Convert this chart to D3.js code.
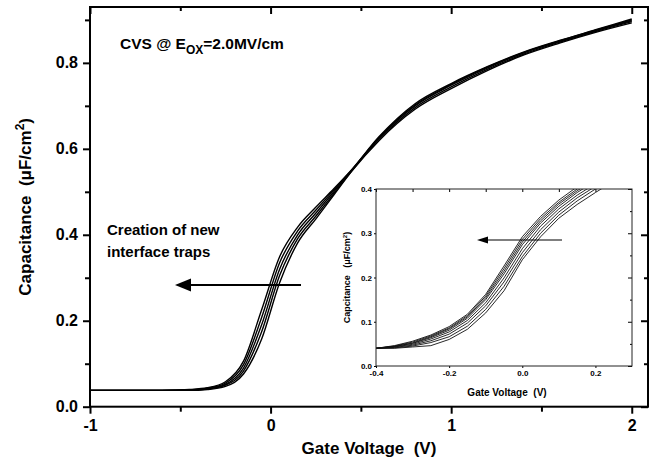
<!DOCTYPE html>
<html>
<head>
<meta charset="utf-8">
<script src="https://cdn.jsdelivr.net/npm/d3@7"></script>
<style>
  body { margin: 0; background: #fff; }
  svg { display: block; font-family: "Liberation Sans", Arial, sans-serif; }
  text { white-space: pre; }
</style>
</head>
<body>
<svg id="chart" width="653" height="463"></svg>
<script>
// ---------- DATA ----------
// Main panel: gate voltage grid (V) and capacitance curves (uF/cm^2)
const mainVoltage = [-1, -0.6, -0.45, -0.35, -0.25, -0.15, -0.05, 0.05, 0.15, 0.25, 0.35, 0.45, 0.6, 0.8, 1.0, 1.2, 1.4, 1.6, 1.8, 2.0];
const mainCurve1 = [0.038, 0.038, 0.040, 0.044, 0.058, 0.106, 0.225, 0.349, 0.418, 0.464, 0.507, 0.552, 0.628, 0.705, 0.752, 0.791, 0.825, 0.852, 0.877, 0.902];
const mainCurve2 = [0.038, 0.038, 0.0395, 0.043, 0.055, 0.098, 0.207, 0.335, 0.409, 0.457, 0.504, 0.551, 0.626, 0.702, 0.750, 0.790, 0.824, 0.851, 0.876, 0.900];
const mainCurve3 = [0.038, 0.038, 0.039, 0.042, 0.052, 0.090, 0.190, 0.320, 0.400, 0.450, 0.500, 0.550, 0.625, 0.700, 0.748, 0.788, 0.823, 0.850, 0.875, 0.898];
const mainCurve4 = [0.038, 0.038, 0.0385, 0.041, 0.050, 0.083, 0.174, 0.305, 0.391, 0.443, 0.496, 0.549, 0.622, 0.696, 0.744, 0.785, 0.820, 0.848, 0.873, 0.896];
const mainCurve5 = [0.038, 0.038, 0.038, 0.040, 0.0475, 0.076, 0.157, 0.2885, 0.381, 0.4365, 0.4925, 0.548, 0.619, 0.692, 0.740, 0.782, 0.818, 0.846, 0.871, 0.893];

const mainXTicks = [-1, 0, 1, 2];
const mainXMinor = [-0.5, 0.5, 1.5];
const mainYTicks = [0.0, 0.2, 0.4, 0.6, 0.8];
const mainYMinor = [0.1, 0.3, 0.5, 0.7, 0.9];

// Inset panel
const insetVoltage = [-0.4, -0.35, -0.3, -0.25, -0.2, -0.15, -0.1, -0.05, 0, 0.05, 0.1, 0.15, 0.2, 0.25];
const insetCurve1 = [0.040, 0.046, 0.056, 0.070, 0.089, 0.117, 0.162, 0.226, 0.292, 0.338, 0.375, 0.405, 0.430, 0.455];
const insetCurve2 = [0.040, 0.045, 0.054, 0.068, 0.086, 0.114, 0.158, 0.220, 0.286, 0.333, 0.370, 0.400, 0.425, 0.450];
const insetCurve3 = [0.040, 0.044, 0.052, 0.066, 0.084, 0.111, 0.154, 0.214, 0.280, 0.328, 0.366, 0.396, 0.422, 0.447];
const insetCurve4 = [0.040, 0.044, 0.051, 0.064, 0.081, 0.108, 0.150, 0.208, 0.274, 0.323, 0.361, 0.392, 0.418, 0.443];
const insetCurve5 = [0.040, 0.043, 0.049, 0.061, 0.077, 0.103, 0.143, 0.199, 0.265, 0.316, 0.355, 0.386, 0.412, 0.437];
const insetCurve6 = [0.040, 0.042, 0.047, 0.057, 0.072, 0.097, 0.136, 0.190, 0.256, 0.308, 0.348, 0.380, 0.406, 0.432];
const insetCurve7 = [0.040, 0.041, 0.045, 0.053, 0.066, 0.090, 0.128, 0.180, 0.247, 0.300, 0.341, 0.373, 0.400, 0.425];
const insetCurve8 = [0.040, 0.040, 0.043, 0.046, 0.060, 0.083, 0.120, 0.170, 0.240, 0.292, 0.334, 0.365, 0.392, 0.418];

const insetXTicks = [-0.4, -0.2, 0.0, 0.2];
const insetXMinor = [-0.3, -0.1, 0.1];
const insetYTicks = [0.0, 0.1, 0.2, 0.3, 0.4];
const insetYMinor = [0.05, 0.15, 0.25, 0.35];

// ---------- DRAW ----------
const svg = d3.select("#chart");
const FONT = '"Liberation Sans", Arial, sans-serif';

// main scales
const x = d3.scaleLinear().domain([-1, 2.09]).range([90, 648]);
const y = d3.scaleLinear().domain([0, 0.93]).range([406.7, 7]);
const [xL, xR] = x.range();
const [yB, yT] = y.range();

const fmt1 = d => d.toFixed(1);
const fmtInt = d => String(d);

function styleAxis(g, w) {
  g.selectAll(".domain").remove();
  g.selectAll(".tick line").attr("stroke", "#000").attr("stroke-width", w);
  g.selectAll("text").attr("fill", "#000").attr("font-family", FONT).attr("font-weight", "bold");
}

// main curves
const mainSeries = [mainCurve1, mainCurve2, mainCurve3, mainCurve4, mainCurve5];
const line = d3.line().x(d => x(d[0])).y(d => y(d[1])).curve(d3.curveMonotoneX);
svg.append("defs").append("clipPath").attr("id", "mainClip")
  .append("rect").attr("x", xL).attr("y", yT).attr("width", xR - xL).attr("height", yB - yT);
svg.append("g").attr("clip-path", "url(#mainClip)")
  .selectAll("path").data(mainSeries).join("path")
  .attr("d", s => line(mainVoltage.map((v, i) => [v, s[i]])))
  .attr("fill", "none").attr("stroke", "#000").attr("stroke-width", 1.4);

// main axes
const gBottom = svg.append("g").attr("transform", `translate(0,${yB})`)
  .call(d3.axisBottom(x).tickValues(mainXTicks).tickFormat(fmtInt).tickSize(7).tickPadding(6));
styleAxis(gBottom, 2);
gBottom.selectAll("text").attr("font-size", 16);
const gBottomMinor = svg.append("g").attr("transform", `translate(0,${yB})`)
  .call(d3.axisBottom(x).tickValues(mainXMinor).tickFormat("").tickSize(5));
styleAxis(gBottomMinor, 2);

const gLeft = svg.append("g").attr("transform", `translate(${xL},0)`)
  .call(d3.axisLeft(y).tickValues(mainYTicks).tickFormat(fmt1).tickSize(7).tickPadding(5));
styleAxis(gLeft, 2);
gLeft.selectAll("text").attr("font-size", 16);
const gLeftMinor = svg.append("g").attr("transform", `translate(${xL},0)`)
  .call(d3.axisLeft(y).tickValues(mainYMinor).tickFormat("").tickSize(5));
styleAxis(gLeftMinor, 2);

// top & right inward ticks
const gTop = svg.append("g").attr("transform", `translate(0,${yT})`)
  .call(d3.axisBottom(x).tickValues(mainXTicks).tickFormat("").tickSize(7));
styleAxis(gTop, 2);
const gTopMinor = svg.append("g").attr("transform", `translate(0,${yT})`)
  .call(d3.axisBottom(x).tickValues(mainXMinor).tickFormat("").tickSize(4));
styleAxis(gTopMinor, 2);
const gRight = svg.append("g").attr("transform", `translate(${xR},0)`)
  .call(d3.axisLeft(y).tickValues(mainYTicks).tickFormat("").tickSize(7));
styleAxis(gRight, 2);
const gRightMinor = svg.append("g").attr("transform", `translate(${xR},0)`)
  .call(d3.axisLeft(y).tickValues(mainYMinor).tickFormat("").tickSize(4));
styleAxis(gRightMinor, 2);

// main frame
svg.append("rect").attr("x", xL).attr("y", yT).attr("width", xR - xL).attr("height", yB - yT)
  .attr("fill", "none").attr("stroke", "#000").attr("stroke-width", 2);

// axis titles
svg.append("text").attr("x", (xL + xR) / 2).attr("y", 454).attr("text-anchor", "middle")
  .attr("font-size", 17).attr("font-weight", "bold").text("Gate Voltage  (V)");
const yt = svg.append("text").attr("transform", `translate(31,${(yB + yT) / 2}) rotate(-90)`)
  .attr("text-anchor", "middle").attr("font-size", 17).attr("font-weight", "bold");
yt.append("tspan").text("Capacitance  (\u03bcF/cm");
yt.append("tspan").attr("dy", -7).attr("font-size", 12).text("2");
yt.append("tspan").attr("dy", 7).text(")");

// title annotation
const tt = svg.append("text").attr("x", 120).attr("y", 48.5).attr("font-size", 15.5).attr("font-weight", "bold");
tt.append("tspan").text("CVS @ E");
tt.append("tspan").attr("dy", 5).attr("font-size", 12).text("OX");
tt.append("tspan").attr("dy", -5).text("=2.0MV/cm");

svg.append("text").attr("x", 107).attr("y", 235).attr("font-size", 15).attr("font-weight", "bold").text("Creation of new");
svg.append("text").attr("x", 107).attr("y", 257).attr("font-size", 15).attr("font-weight", "bold").text("interface traps");

// main arrow
svg.append("line").attr("x1", 301).attr("x2", 188).attr("y1", 285).attr("y2", 285)
  .attr("stroke", "#000").attr("stroke-width", 2);
svg.append("path").attr("d", "M175,285 L191,278.5 L191,291.5 Z").attr("fill", "#000");

// ---------- INSET ----------
const ix = d3.scaleLinear().domain([-0.4, 0.3]).range([376, 632]);
const iy = d3.scaleLinear().domain([0, 0.4]).range([366, 189]);
const [ixL, ixR] = ix.range();
const [iyB, iyT] = iy.range();

svg.append("rect").attr("x", ixL).attr("y", iyT).attr("width", ixR - ixL).attr("height", iyB - iyT).attr("fill", "#fff");
svg.select("defs").append("clipPath").attr("id", "insetClip")
  .append("rect").attr("x", ixL).attr("y", iyT).attr("width", ixR - ixL).attr("height", iyB - iyT);
const insetSeries = [insetCurve1, insetCurve2, insetCurve3, insetCurve4, insetCurve5, insetCurve6, insetCurve7, insetCurve8];
const iline = d3.line().x(d => ix(d[0])).y(d => iy(d[1]));
svg.append("g").attr("clip-path", "url(#insetClip)")
  .selectAll("path").data(insetSeries).join("path")
  .attr("d", s => iline(insetVoltage.map((v, i) => [v, s[i]])))
  .attr("fill", "none").attr("stroke", "#111").attr("stroke-width", 0.9);

const giB = svg.append("g").attr("transform", `translate(0,${iyB})`)
  .call(d3.axisBottom(ix).tickValues(insetXTicks).tickFormat(fmt1).tickSize(2).tickPadding(2));
styleAxis(giB, 1);
giB.selectAll("text").attr("font-size", 8);
const giL = svg.append("g").attr("transform", `translate(${ixL},0)`)
  .call(d3.axisLeft(iy).tickValues(insetYTicks).tickFormat(fmt1).tickSize(2).tickPadding(2));
styleAxis(giL, 1);
giL.selectAll("text").attr("font-size", 8);
const giT = svg.append("g").attr("transform", `translate(0,${iyT})`)
  .call(d3.axisBottom(ix).tickValues(insetXTicks.concat(insetXMinor)).tickFormat("").tickSize(3));
styleAxis(giT, 1);
const giR = svg.append("g").attr("transform", `translate(${ixR},0)`)
  .call(d3.axisLeft(iy).tickValues(insetYTicks).tickFormat("").tickSize(4));
styleAxis(giR, 1);
const giRm = svg.append("g").attr("transform", `translate(${ixR},0)`)
  .call(d3.axisLeft(iy).tickValues(insetYMinor).tickFormat("").tickSize(2));
styleAxis(giRm, 1);

svg.append("rect").attr("x", ixL).attr("y", iyT).attr("width", ixR - ixL).attr("height", iyB - iyT)
  .attr("fill", "none").attr("stroke", "#222").attr("stroke-width", 1);

svg.append("text").attr("x", (ixL + ixR) / 2 + 3).attr("y", 396).attr("text-anchor", "middle")
  .attr("font-size", 10).attr("font-weight", "bold").text("Gate Voltage  (V)");
const iyt = svg.append("text").attr("transform", `translate(350,${(iyB + iyT) / 2}) rotate(-90)`)
  .attr("text-anchor", "middle").attr("font-size", 9).attr("font-weight", "bold");
iyt.append("tspan").text("Capcitance   (\u03bcF/cm");
iyt.append("tspan").attr("dy", -3).attr("font-size", 6).text("2");
iyt.append("tspan").attr("dy", 3).text(")");

// inset arrow
svg.append("line").attr("x1", 562).attr("x2", 485).attr("y1", 240).attr("y2", 240)
  .attr("stroke", "#000").attr("stroke-width", 1.2);
svg.append("path").attr("d", "M477,240 L488,236.5 L488,243.5 Z").attr("fill", "#000");
</script>
</body>
</html>
